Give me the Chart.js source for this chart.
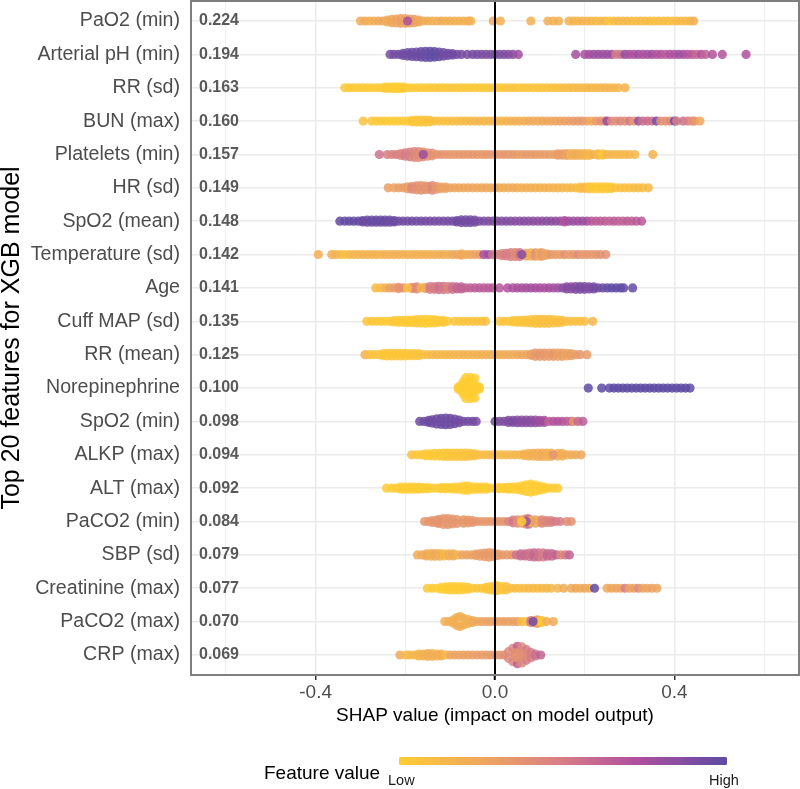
<!DOCTYPE html>
<html>
<head>
<meta charset="utf-8">
<title>SHAP summary</title>
<script src="https://cdn.jsdelivr.net/npm/chart.js@4"></script>
<style>
html, body { margin: 0; padding: 0; background: #fff; }
#wrap { width: 800px; height: 789px; overflow: hidden; }
canvas { display: block; }
</style>
</head>
<body>
<div id="wrap"><canvas id="chart" width="800" height="789"></canvas></div>
<script>
// feature names and mean |SHAP|, top to bottom
const features = ['PaO2 (min)', 'Arterial pH (min)', 'RR (sd)', 'BUN (max)', 'Platelets (min)', 'HR (sd)', 'SpO2 (mean)', 'Temperature (sd)', 'Age', 'Cuff MAP (sd)', 'RR (mean)', 'Norepinephrine', 'SpO2 (min)', 'ALKP (max)', 'ALT (max)', 'PaCO2 (min)', 'SBP (sd)', 'Creatinine (max)', 'PaCO2 (max)', 'CRP (max)'];
const meanShap = ['0.224', '0.194', '0.163', '0.160', '0.157', '0.149', '0.148', '0.142', '0.141', '0.135', '0.125', '0.100', '0.098', '0.094', '0.092', '0.084', '0.079', '0.077', '0.070', '0.069'];
const xTicks = [-0.6, -0.4, -0.2, 0, 0.2, 0.4, 0.6];
const xTickLabels = ['-0.4', '0.0', '0.4'];

// each entry: [shap value, feature value 0-1, swarm half height in rows (points sit above and below)]
const pao2Min = [[-.30,.22],[-.29,.22],[-.28,.2],[-.27,.2],[-.26,.22],[-.25,.25],[-.24,.22,.03],[-.23,.25,.05],[-.22,.25,.06],[-.21,.3,.07],[-.20,.28,.07],[-.19,.3,.06],[-.18,.3,.05],[-.17,.25,.03],[-.16,.22],[-.15,.22],[-.14,.2],[-.13,.2],[-.12,.22],[-.11,.2],[-.10,.2],[-.09,.2],[-.08,.18],[-.07,.2],[-.06,.2],[-.054,.18],[-.004,.22],[.012,.2],[.08,.18],[.118,.2],[.13,.18],[.142,.2],[.165,.17],[.175,.17],[.185,.15],[.195,.17],[.205,.15],[.215,.15],[.225,.12],[.235,.12],[.245,.14],[.255,.05],[.265,.1],[.275,.14],[.285,.12],[.295,.14],[.305,.12],[.315,.1],[.325,.12],[.335,.1],[.345,.12],[.355,.08],[.365,.1],[.375,.1],[.385,.1],[.395,.08],[.405,.12],[.415,.12],[.425,.14],[.435,.14],[.443,.2],[-.195,.72]];
const arterialPh = [[-.234,.92],[-.225,.92],[-.215,.94],[-.205,.93,.03],[-.195,.94,.05],[-.185,.95,.06],[-.175,.94,.07],[-.165,.96,.08],[-.155,.97,.09],[-.145,.98,.09],[-.135,1,.08],[-.125,.97,.07],[-.115,.95,.05],[-.105,.94,.03],[-.095,.93,.02],[-.085,.93],[-.075,.92],[-.062,.9],[-.05,.92],[-.04,.92],[-.03,.9],[-.02,.9],[-.01,.9],[0,.9],[.01,.9],[.02,.9],[.03,.88],[.04,.85],[.052,.78],[.18,.75],[.2,.75],[.21,.75],[.22,.78],[.23,.8],[.24,.78],[.25,.8],[.26,.78],[.27,.5],[.28,.55],[.29,.82],[.30,.75],[.31,.72],[.32,.78],[.33,.72],[.34,.75],[.35,.78],[.36,.7],[.37,.72],[.38,.66],[.39,.72],[.40,.72],[.41,.78],[.42,.75],[.43,.7],[.44,.68],[.45,.6],[.46,.7],[.47,.62],[.485,.7],[.507,.7],[.56,.72]];
const rrSd = [[-.335,.02],[-.325,.02],[-.315,.02],[-.305,.01],[-.295,.02],[-.285,.02],[-.275,.02],[-.265,.01],[-.255,.02],[-.245,.01,.02],[-.235,.01,.02],[-.225,0,.03],[-.215,0,.03],[-.205,.01,.02],[-.195,.01],[-.185,.02],[-.175,.02],[-.165,.02],[-.155,.02],[-.145,.03],[-.135,.03],[-.125,.04],[-.115,.03],[-.105,.03],[-.095,.04],[-.085,.03],[-.075,.03],[-.065,.03],[-.055,.03],[-.045,.02],[-.035,.03],[-.025,.03],[-.015,.03],[-.005,.03],[.005,.03],[.015,.03],[.025,.04],[.035,.04],[.045,.04],[.055,.03],[.065,.04],[.075,.05],[.085,.05],[.095,.05],[.105,.06],[.115,.06],[.125,.07],[.135,.08],[.145,.08],[.155,.1],[.165,.1],[.175,.12],[.185,.12],[.195,.12],[.205,.13],[.215,.14],[.225,.14],[.235,.15],[.245,.16],[.255,.15],[.265,.16],[.275,.14],[.29,.17]];
const bunMax = [[-.294,.06],[-.275,.04],[-.265,.03],[-.255,.03],[-.245,.03],[-.235,.02],[-.225,.01],[-.215,.01],[-.205,.02],[-.195,.03],[-.185,.04,.02],[-.175,.05,.03],[-.165,.05,.03],[-.155,.06,.03],[-.145,.07,.02],[-.135,.07],[-.125,.08],[-.115,.08],[-.105,.09],[-.095,.1],[-.085,.1],[-.075,.12],[-.065,.12],[-.055,.13],[-.045,.14],[-.035,.15],[-.025,.14],[-.015,.15],[-.005,.15],[.005,.16],[.015,.16],[.025,.17],[.035,.18],[.045,.2],[.055,.2],[.065,.2],[.075,.22],[.085,.23],[.095,.22],[.105,.24],[.115,.25],[.125,.25],[.135,.26],[.145,.28],[.155,.3],[.165,.3],[.175,.33],[.185,.33],[.195,.35],[.205,.3],[.215,.22],[.225,.32],[.235,.38],[.245,.42],[.25,.8],[.26,.42],[.27,.4],[.28,.45],[.29,.4],[.30,.5],[.31,.35],[.32,.8],[.33,.55],[.34,.58],[.35,.55],[.36,.9],[.37,.35],[.38,.38],[.39,.42],[.40,.95],[.405,.5],[.42,.55],[.43,.48],[.44,.4],[.445,.35],[.457,.25]];
const plateletsMin = [[-.258,.55],[-.24,.5],[-.23,.45],[-.22,.5],[-.21,.45,.03],[-.20,.5,.05],[-.19,.48,.07],[-.18,.44,.09],[-.17,.42,.09],[-.16,.42,.07],[-.15,.4,.05],[-.14,.38,.04],[-.13,.35],[-.12,.38],[-.11,.35],[-.10,.36],[-.09,.34],[-.08,.35],[-.07,.35],[-.06,.34],[-.05,.36],[-.04,.35],[-.03,.34],[-.02,.35],[-.01,.35],[0,.34],[.01,.35],[.02,.36],[.03,.34],[.04,.34],[.05,.33],[.06,.32],[.07,.34],[.08,.33],[.09,.34],[.10,.32],[.11,.32],[.12,.32],[.13,.3],[.14,.32,.02],[.15,.32,.02],[.16,.28,.03],[.17,.2,.03],[.18,.22,.03],[.19,.2,.03],[.20,.18,.03],[.21,.14,.03],[.22,.2],[.23,.12,.02],[.24,.05,.02],[.25,.16],[.26,.16],[.27,.14],[.28,.14],[.29,.14],[.30,.14],[.312,.14],[.352,.17],[-.16,.8]];
const hrSd = [[-.238,.3],[-.225,.28],[-.215,.3],[-.205,.32],[-.195,.3,.03],[-.185,.42,.04],[-.175,.38,.06],[-.165,.37,.07],[-.155,.37,.05],[-.15,.36,.04],[-.14,.42,.07],[-.13,.34,.04],[-.12,.3,.02],[-.11,.28,.02],[-.10,.28],[-.09,.27],[-.08,.26],[-.07,.26],[-.06,.26],[-.05,.26],[-.04,.25],[-.03,.25],[-.02,.25],[-.01,.24],[0,.24],[.01,.23],[.02,.22],[.03,.22],[.04,.22],[.05,.21],[.06,.2],[.07,.2],[.08,.2],[.09,.2],[.10,.19],[.11,.18],[.12,.18],[.13,.17],[.14,.17],[.15,.16],[.16,.14],[.17,.14],[.18,.12],[.19,.1,.02],[.20,.12,.02],[.21,.06,.03],[.22,.03,.03],[.23,.02,.03],[.24,.03,.03],[.25,.02,.03],[.26,.04,.02],[.27,.06],[.28,.08],[.29,.08],[.30,.09],[.31,.1],[.32,.1],[.33,.1],[.342,.12]];
const spo2Mean = [[-.346,.98],[-.335,.98],[-.325,.98],[-.315,.98],[-.305,.98],[-.295,.96,.02],[-.285,.95,.03],[-.275,.96,.03],[-.265,.97,.03],[-.255,.96,.03],[-.245,.97,.03],[-.235,.95,.03],[-.225,.96,.02],[-.215,.94],[-.205,.94],[-.195,.93],[-.185,.95],[-.175,.93],[-.165,.93],[-.155,.93],[-.145,.92],[-.135,.92],[-.125,.92],[-.115,.91],[-.105,.92],[-.095,.92],[-.085,.94,.02],[-.075,.93,.04],[-.065,.92,.04],[-.055,.93,.04],[-.045,.92,.03],[-.035,.9],[-.025,.9],[-.015,.88],[-.005,.88],[.005,.88],[.015,.88],[.025,.88],[.035,.88],[.045,.86],[.055,.86],[.065,.86],[.075,.85],[.085,.85],[.095,.84],[.105,.84],[.115,.85],[.125,.85],[.135,.84],[.145,.82],[.155,.72,.02],[.165,.78],[.175,.78],[.185,.78],[.195,.8],[.205,.78],[.215,.68],[.225,.66],[.235,.66],[.245,.65],[.255,.62],[.265,.66],[.275,.64],[.285,.62],[.295,.66],[.305,.64],[.315,.66],[.327,.68]];
const temperatureSd = [[-.394,.2],[-.364,.2],[-.355,.18],[-.345,.15],[-.335,.08],[-.325,.12],[-.315,.16],[-.305,.16],[-.295,.18],[-.285,.18],[-.275,.18],[-.265,.2],[-.255,.16],[-.245,.2],[-.235,.18],[-.225,.2],[-.215,.2],[-.205,.18],[-.195,.2],[-.185,.18],[-.175,.2],[-.165,.18],[-.155,.2],[-.145,.18],[-.135,.2],[-.125,.2],[-.115,.22],[-.105,.2],[-.095,.24],[-.085,.26],[-.075,.24,.02],[-.065,.22],[-.055,.25],[-.045,.28],[-.035,.3],[-.025,.72],[-.015,.78],[-.005,.55],[.005,.5],[.015,.45,.03],[.025,.5,.04],[.035,.48,.06],[.045,.42,.06],[.055,.52,.06],[.07,.3,.04],[.08,.2,.05],[.09,.38,.05],[.10,.22,.05],[.105,.32,.05],[.115,.28,.02],[.125,.35],[.135,.32],[.145,.3],[.155,.38],[.165,.32],[.175,.35],[.185,.42],[.195,.34],[.205,.36],[.215,.34],[.225,.36],[.235,.38],[.247,.38],[.06,.85]];
const ageValues = [[-.266,.12],[-.255,.12],[-.245,.18],[-.235,.3],[-.225,.32],[-.215,.35,.02],[-.205,.38],[-.185,.38,.02],[-.175,.42,.03],[-.155,.25,.02],[-.145,.5,.04],[-.135,.5,.04],[-.125,.55,.05],[-.115,.52,.05],[-.105,.45,.04],[-.095,.55,.04],[-.085,.6,.03],[-.075,.62,.03],[-.065,.62],[-.055,.64],[-.045,.65],[-.035,.66],[-.025,.66],[-.015,.67],[-.005,.68],[.01,.68],[.028,.72],[.04,.72],[.05,.74],[.06,.74],[.07,.75],[.08,.76],[.09,.76],[.10,.75],[.11,.74],[.12,.76],[.13,.76],[.14,.76],[.15,.85],[.16,.87,.03],[.17,.85,.03],[.18,.88,.04],[.19,.9,.04],[.20,.9,.04],[.21,.88,.03],[.22,.92,.03],[.23,.92],[.24,.94],[.25,.97],[.26,1],[.27,1],[.28,1],[.287,.98],[.307,.98],[-.195,.1],[-.165,.18]];
const cuffMapSd = [[-.286,.05],[-.275,.05],[-.265,.03],[-.255,.02],[-.245,.02],[-.235,.02],[-.225,.03,.02],[-.215,.02,.03],[-.205,.02,.03],[-.195,.01,.04],[-.185,.01,.04],[-.175,.02,.05],[-.165,.02,.05],[-.155,0,.06],[-.145,0,.05],[-.135,.01,.05],[-.125,.02,.03],[-.115,.03,.03],[-.105,.03],[-.09,.05],[-.08,.05],[-.07,.06],[-.06,.06],[-.05,.07],[-.04,.07],[-.03,.08],[-.021,.08],[.01,.06],[.02,.06],[.03,.05],[.04,.05,.02],[.05,.05,.03],[.06,.06,.03],[.07,.06,.04],[.08,.06,.05],[.09,.07,.06],[.10,.08,.06],[.11,.08,.06],[.12,.08,.06],[.13,.08,.05],[.14,.08,.04],[.15,.08,.03],[.16,.09],[.17,.09],[.18,.09],[.19,.09],[.20,.09],[.218,.15]];
const rrMean = [[-.29,.18],[-.28,.08],[-.27,.07],[-.26,.06],[-.25,.05,.03],[-.24,.05,.04],[-.23,.04,.04],[-.22,.04,.04],[-.21,.04,.04],[-.20,.05,.04],[-.19,.05,.03],[-.18,.06,.03],[-.17,.06,.03],[-.16,.08],[-.15,.1],[-.14,.14],[-.13,.16],[-.12,.14],[-.11,.15],[-.10,.16],[-.09,.15],[-.08,.16],[-.07,.18],[-.06,.18],[-.05,.18],[-.04,.19],[-.03,.2],[-.02,.2],[-.01,.2],[0,.2],[.01,.22],[.02,.22],[.03,.22],[.04,.22],[.05,.24],[.06,.25],[.07,.26],[.08,.3,.02],[.09,.34,.05],[.10,.36,.05],[.11,.34,.05],[.12,.32,.05],[.13,.34,.05],[.14,.3,.05],[.15,.3,.05],[.16,.28,.04],[.17,.3,.03],[.18,.32],[.19,.34],[.205,.32]];
const norepinephrine = [[-.065,0,.31],[-.055,0,.31],[-.045,0,.3],[-.07,0,.2],[-.06,0,.2],[-.05,0,.2],[-.075,0,.1],[-.06,0,.1],[-.045,0,.1],[-.082,0,.03],[-.07,0],[-.06,0],[-.05,0],[-.04,0,.03],[-.035,0,.03],[.208,1],[.238,1],[.255,1],[.265,1],[.275,1],[.285,1],[.295,1],[.305,1],[.315,1],[.325,1],[.335,1],[.345,1],[.355,1],[.365,1],[.375,1],[.385,1],[.395,1],[.405,1],[.415,1],[.425,1],[.435,1]];
const spo2Min = [[-.168,.95],[-.158,.95],[-.148,.95,.03],[-.14,.95,.05],[-.13,.94,.08],[-.12,.95,.09],[-.11,.96,.1],[-.10,.95,.09],[-.09,.94,.07],[-.08,.94,.04],[-.07,.92],[-.06,.94],[-.05,.94],[-.042,.92],[0,.9],[.01,.9],[.02,.9],[.03,.88,.03],[.04,.9,.03],[.05,.88,.04],[.06,.86,.04],[.07,.85,.04],[.08,.85,.04],[.09,.82,.04],[.10,.8,.03],[.11,.78,.03],[.12,.62],[.13,.7],[.14,.72],[.15,.7],[.16,.66],[.17,.62],[.175,.35],[.185,.6],[.196,.65]];
const alkpMax = [[-.186,.08],[-.175,.04],[-.165,.03],[-.155,.02,.03],[-.145,.02,.03],[-.135,.02,.04],[-.125,.03,.04],[-.115,.03,.05],[-.105,.04,.05],[-.095,.05,.05],[-.085,.05,.05],[-.075,.06,.05],[-.065,.06,.05],[-.055,.07,.04],[-.045,.08,.03],[-.035,.1],[-.025,.11],[-.015,.12],[-.005,.12],[.005,.12],[.015,.13],[.025,.13],[.035,.14],[.045,.14],[.055,.15],[.065,.17,.02],[.075,.18,.04],[.085,.2,.04],[.095,.2,.05],[.105,.22,.05],[.115,.2,.05],[.125,.2,.05],[.14,.2,.04],[.15,.2,.04],[.16,.22],[.17,.22],[.18,.22],[.192,.26],[.13,.36]];
const altMax = [[-.242,.01],[-.23,.01],[-.22,.01],[-.21,0,.03],[-.20,0,.03],[-.19,0,.03],[-.18,0,.03],[-.17,0,.03],[-.16,0,.02],[-.15,0,.02],[-.14,0],[-.13,.01],[-.12,0,.02],[-.11,0,.02],[-.10,0,.02],[-.09,0,.03],[-.08,0,.03],[-.07,0,.06],[-.06,0,.06],[-.05,0,.04],[-.04,0,.03],[-.03,0,.03],[-.02,0,.03],[-.01,0],[0,0],[.01,0,.02],[.02,0,.02],[.03,0,.03],[.04,0,.03],[.05,0,.04],[.06,0,.07],[.07,0,.1],[.08,0,.12],[.09,0,.09],[.10,0,.06],[.11,0,.03],[.12,0],[.13,.01],[.14,.01]];
const paco2Min = [[-.157,.36],[-.148,.36],[-.14,.36,.03],[-.13,.36,.04],[-.125,.36,.06],[-.115,.36,.09],[-.105,.36,.09],[-.095,.36,.07],[-.085,.35,.06],[-.07,.35,.05],[-.06,.35,.04],[-.05,.35,.03],[-.04,.35],[-.03,.35],[-.02,.34],[-.01,.34],[0,.35],[.01,.35],[.02,.36],[.03,.45],[.04,.52,.04],[.05,.4,.05],[.06,.3,.05],[.07,.42,.08],[.075,.55,.08],[.08,.1,.02],[.09,.3,.05],[.10,.2,.03],[.105,.42,.05],[.115,.45,.03],[.125,.48,.03],[.135,.5],[.145,.5],[.16,.42],[.17,.38],[.07,.8],[.06,.02]];
const sbpSd = [[-.173,.22],[-.163,.22],[-.153,.24,.03],[-.143,.2,.04],[-.133,.24,.04],[-.123,.2,.04],[-.113,.14,.03],[-.103,.2,.03],[-.093,.22,.03],[-.083,.16],[-.073,.28],[-.063,.28],[-.053,.28],[-.043,.3,.02],[-.033,.32,.04],[-.023,.33,.05],[-.013,.33,.07],[-.003,.34,.05],[.007,.32,.02],[.017,.34],[.027,.34],[.037,.34],[.047,.55],[.057,.58,.03],[.067,.58,.03],[.077,.55,.05],[.087,.6,.06],[.097,.55,.06],[.107,.5,.06],[.117,.6,.04],[.127,.58,.04],[.137,.62],[.147,.42],[.157,.5],[.166,.62]];
const creatinineMax = [[-.151,.02],[-.14,.01],[-.13,0],[-.12,0,.03],[-.11,0,.04],[-.10,0,.05],[-.09,0,.05],[-.08,0,.05],[-.07,.01,.04],[-.06,.02,.03],[-.05,.03],[-.04,.04],[-.03,.05],[-.02,.05,.03],[-.01,.05,.05],[0,.05,.07],[.005,.05,.07],[.015,.06,.05],[.025,.07,.05],[.035,.09],[.045,.1],[.055,.1],[.065,.11],[.075,.12],[.085,.12],[.095,.12],[.105,.12],[.115,.14],[.125,.14],[.14,.15],[.153,.22],[.17,.22],[.18,.25],[.19,.22],[.20,.26],[.21,.22],[.222,.98],[.25,.24],[.26,.26],[.27,.26],[.28,.26],[.29,.5],[.30,.28],[.31,.3],[.32,.42],[.33,.28],[.34,.26],[.35,.28],[.361,.26]];
const paco2Max = [[-.112,.2],[-.103,.2],[-.093,.2,.05],[-.085,.2,.12],[-.078,.2,.15],[-.07,.2,.1],[-.06,.2,.06],[-.05,.22,.03],[-.04,.25],[-.03,.28],[-.02,.28],[-.01,.3],[0,.3],[.01,.3],[.02,.3],[.03,.3],[.04,.3],[.05,.3],[.06,.12],[.07,.06],[.08,.5,.03],[.09,.35,.04],[.095,.3,.05],[.10,.12,.02],[.105,.03,.03],[.115,.2],[.13,.22],[.085,.92]];
const crpMax = [[-.212,.22],[-.198,.15],[-.19,.12],[-.18,.15],[-.17,.16,.03],[-.16,.18,.03],[-.15,.2,.04],[-.14,.2,.04],[-.13,.2,.03],[-.12,.2,.03],[-.11,.12],[-.10,.25],[-.09,.28],[-.08,.28],[-.07,.3],[-.06,.3],[-.05,.3],[-.04,.32],[-.03,.32],[-.02,.32],[-.01,.33],[0,.34],[.01,.36],[.02,.4],[.03,.42,.1],[.04,.45,.2],[.05,.62,.26],[.06,.42,.24],[.07,.5,.16],[.05,.42,.08],[.06,.4,.02],[.045,.38,.06],[.07,.42,.04],[.08,.5,.08],[.09,.55,.03],[.102,.62]];
const rowPoints = [pao2Min, arterialPh, rrSd, bunMax, plateletsMin, hrSd, spo2Mean, temperatureSd, ageValues, cuffMapSd, rrMean, norepinephrine, spo2Min, alkpMax, altMax, paco2Min, sbpSd, creatinineMax, paco2Max, crpMax];

const rampStops = [[0, [255, 204, 51]], [0.3, [235, 160, 100]], [0.5, [214, 125, 135]], [0.72, [176, 80, 158]], [1, [94, 75, 163]]];

function levelRgb(level) {
    for (let i = 1; i < rampStops.length; i++) {
        if (level <= rampStops[i][0]) {
            const a = rampStops[i - 1], b = rampStops[i];
            const t = (level - a[0]) / (b[0] - a[0]);
            return a[1].map((c, k) => Math.round(c + (b[1][k] - c) * t));
        }
    }
    return rampStops[rampStops.length - 1][1];
}

function rowToPoints(row, i) {
    const pts = [];
    row.forEach(p => {
        const spread = p[2] || 0;
        pts.push({ x: p[0], y: i + 1 - spread, level: p[1] });
        if (spread) {
            pts.push({ x: p[0], y: i + 1 + spread, level: p[1] });
        }
    });
    return pts;
}

const datasets = rowPoints.map((row, i) => ({
    type: 'scatter',
    data: rowToPoints(row, i),
    pointRadius: 4.6,
    pointHoverRadius: 4.6,
    pointBorderWidth: 0,
    pointBackgroundColor: ctx => 'rgba(' + levelRgb(ctx.raw.level).join(',') + ',0.85)',
    order: 2
}));

datasets.push({
    type: 'line',
    data: [{ x: 0, y: 0.4 }, { x: 0, y: 20.6 }],
    borderColor: '#000',
    borderWidth: 2,
    pointRadius: 0,
    order: 1
});

const extras = {
    id: 'extras',
    afterDraw(chart) {
        const c = chart.ctx, area = chart.chartArea, yScale = chart.scales.y;
        c.save();
        c.font = 'bold 16px "Liberation Sans"';
        c.fillStyle = '#595959';
        c.textAlign = 'center';
        c.textBaseline = 'middle';
        meanShap.forEach((t, i) => c.fillText(t, 219, yScale.getPixelForValue(i + 1)));

        c.strokeStyle = '#7f7f7f';
        c.lineWidth = 2;
        c.strokeRect(area.left, area.top, area.right - area.left, area.bottom - area.top);

        // colour bar legend
        const g = c.createLinearGradient(399, 0, 727, 0);
        rampStops.forEach(s => g.addColorStop(s[0], 'rgb(' + s[1].join(',') + ')'));
        c.fillStyle = g;
        c.beginPath();
        c.roundRect(399, 757, 328, 8, 1.5);
        c.fill();
        c.fillStyle = '#000';
        c.textAlign = 'left';
        c.font = '19px "Liberation Sans"';
        c.fillText('Feature value', 264, 774);
        c.fillStyle = '#1a1a1a';
        c.font = '14.5px "Liberation Sans"';
        c.fillText('Low', 388, 781);
        c.fillText('High', 709, 781);
        c.restore();
    }
};

new Chart(document.getElementById('chart'), {
    data: { datasets: datasets },
    plugins: [extras],
    options: {
        responsive: false,
        animation: false,
        layout: { autoPadding: false, padding: { top: 1, right: 1, left: 0, bottom: 0 } },
        plugins: { legend: { display: false }, tooltip: { enabled: false } },
        scales: {
            x: {
                type: 'linear',
                min: -0.678,
                max: 0.678,
                afterBuildTicks: axis => { axis.ticks = xTicks.map(v => ({ value: v })); },
                afterFit: axis => {
                    axis.height = 114;
                    axis.paddingLeft = 0;
                    axis.paddingRight = 0;
                },
                grid: {
                    color: '#ebebeb',
                    lineWidth: ctx => (xTickLabels.includes(ctx.tick.value.toFixed(1)) ? 1.5 : 0.8),
                    tickColor: ctx => (xTickLabels.includes(ctx.tick.value.toFixed(1)) ? (ctx.tick.value === 0 ? '#000' : '#333') : 'transparent'),
                    tickLength: 5,
                    tickWidth: ctx => (ctx.tick.value === 0 ? 2 : 1.5)
                },
                border: { display: false },
                ticks: {
                    autoSkip: false,
                    maxRotation: 0,
                    padding: 1,
                    color: '#4d4d4d',
                    font: { family: '"Liberation Sans"', size: 19 },
                    callback: v => { const s = v.toFixed(1); return xTickLabels.includes(s) ? s : ''; }
                },
                title: {
                    display: true,
                    text: 'SHAP value (impact on model output)',
                    color: '#000',
                    font: { family: '"Liberation Sans"', size: 19 },
                    padding: { top: 0, bottom: 62 }
                }
            },
            y: {
                type: 'linear',
                reverse: true,
                min: 0.4,
                max: 20.6,
                afterBuildTicks: axis => { axis.ticks = features.map((f, i) => ({ value: i + 1 })); },
                afterFit: axis => {
                    axis.width = 191;
                    axis.paddingTop = 0;
                    axis.paddingBottom = 0;
                },
                grid: { color: '#ebebeb', lineWidth: 1.5, tickColor: 'transparent', tickLength: 4 },
                border: { display: false },
                ticks: {
                    autoSkip: false,
                    padding: 7,
                    color: '#4d4d4d',
                    font: { family: '"Liberation Sans"', size: 19.6 },
                    callback: v => features[v - 1]
                },
                title: {
                    display: true,
                    text: 'Top 20 features for XGB model',
                    color: '#000',
                    font: { family: '"Liberation Sans"', size: 25 },
                    padding: { top: -3, bottom: 0 }
                }
            }
        }
    }
});
</script>
</body>
</html>
